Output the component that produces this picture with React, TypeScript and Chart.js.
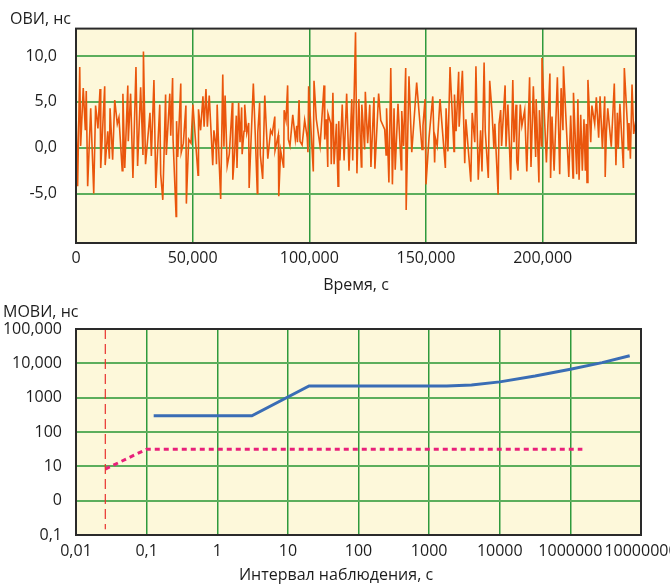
import React, { useEffect, useRef } from "react";
import { Chart, registerables } from "chart.js";

Chart.register(...registerables);

// ---------- Top chart: ОВИ (time interval error), ns vs time, s ----------
const oviTimes = [
  0, 700, 1600, 2000, 3100, 4000, 4400, 5000, 6300, 7600, 8400, 9400, 10300, 10600, 12300, 12500,
  13600, 14300, 14600, 15700, 16600, 17700, 18400, 19800, 20100, 20900, 22200, 22400, 23400, 24400,
  25700, 26400, 27700, 28700, 28900, 29800, 31700, 32300, 33400, 34200, 35900, 36300, 37200, 38400,
  38700, 40200, 40600, 41400, 41600, 42900, 43100, 43600, 44900, 45100, 46000, 47100, 47300, 48300,
  49300, 50100, 52300, 52500, 53400, 54400, 54900, 55700, 56300, 57100, 58600, 59100, 60000, 60200,
  60500, 61300, 62000, 62900, 63400, 63900, 64800, 65700, 67000, 67200, 68000, 68700, 69000, 69700,
  70300, 71000, 71200, 72000, 72300, 73200, 74000, 74200, 76000, 76800, 77700, 77900, 78700, 79000,
  80000, 80900, 82200, 83400, 84100, 85200, 85300, 86700, 86900, 87700, 89000, 89200, 90000, 90700,
  91000, 91700, 92900, 94000, 94600, 94900, 95600, 96000, 96900, 98000, 99100, 99400, 99700, 101700,
  102000, 103000, 104600, 106300, 106600, 107300, 107900, 108000, 109200, 109400, 110100, 110600,
  111600, 112300, 112600, 113100, 114100, 114900, 116000, 117000, 118200, 118600, 119800, 120400,
  121200, 122300, 122500, 123700, 124000, 125000, 125900, 126400, 127700, 128100, 129700, 130600,
  132300, 132900, 133100, 134100, 134900, 135600, 136300, 136800, 138000, 139400, 139600, 140400,
  141300, 141500, 142700, 143900, 146000, 148300, 148700, 149600, 150000, 151300, 152900, 153700,
  154000, 154800, 156000, 158300, 158600, 159400, 160300, 162000, 162200, 162900, 164000, 164200,
  165600, 166600, 167100, 169200, 169800, 170900, 171400, 172400, 173400, 174000, 174900, 175400,
  176700, 177300, 178300, 179100, 179500, 180900, 181300, 182000, 182400, 183900, 184300, 185100,
  186300, 187200, 187700, 188600, 188900, 189400, 190400, 191100, 192300, 193200, 194400, 195000,
  196000, 197000, 197200, 198400, 198600, 199400, 199700, 201600, 203100, 203400, 204000, 204900,
  206300, 207300, 207900, 208700, 208900, 211200, 212000, 213000, 213200, 214600, 215100, 215600,
  216300, 217000, 217700, 218300, 218700, 219000, 219400, 220600, 221100, 222300, 223000, 224000,
  224600, 225600, 226600, 226800, 227300, 227900, 229400, 230700, 231400, 232000, 232400, 233100,
  234600, 235000, 236300, 236700, 237000, 237600, 238300, 239000, 240000,
];
const oviValues = [
  4.0, -4.2, 8.8, 0.2, 6.5, 1.9, 6.2, -4.2, 4.3, -5.0, 4.6, 2.1, 6.4, -2.2, 6.7, -1.9,
  1.8, -1.2, 4.3, -1.3, 5.2, 2.6, 3.3, -2.5, 5.9, -2.2, 6.8, 0.7, 5.9, -3.3,
  8.8, -2.0, 6.6, -0.8, 10.5, -1.8, 3.8, -0.9, 7.4, -4.4, 4.7, -2.9, -5.7, 5.8,
  -0.8, 5.9, 1.3, 7.6, 0.9, -7.5, 2.9, -1.0, 7.0, -0.5, 0.5, 4.6, -6.1, 0.9,
  0.5, 4.7, -3.0, 4.2, 1.9, 5.6, 2.3, 6.4, 2.3, 5.7, -1.9, 1.9, 0.2, -1.8,
  4.7, -1.2, -5.6, 8.0, 0.1, 5.7, -2.0, -0.7, 4.9, -3.5, -0.5, 3.5, -2.2, 4.9,
  0.6, 4.4, -0.7, 1.8, 4.7, 1.6, 2.7, -4.4, 7.0, 1.6, -5.0, 1.6, 4.9, -0.8,
  -3.4, 5.7, -1.2, 1.9, 1.5, 3.4, -0.3, 1.4, -5.3, -0.3, -2.2, 4.1, 3.0, 6.8,
  0.9, 0.2, 3.6, 0.9, 2.4, 0.6, 5.2, 0.7, 0.3, 3.0, 1.1, -0.5, 6.7, -2.6,
  7.3, 3.1, 0.2, 6.8, 0.9, 3.1, -2.1, 3.7, 2.6, -1.8, 6.0, -1.8,
  2.6, -4.2, 2.9, -1.4, 4.7, -1.4, 5.9, -2.5, 5.3, -1.4, 12.6, -2.8,
  5.3, -2.1, 4.7, -0.2, 6.1, 0.5, 4.7, -2.1, 5.5, -2.3, 5.9, 3.0,
  2.0, -0.8, 4.3, -3.8, 8.7, -4.0, 4.3, -2.4, 4.8, -2.4, 4.0, 0.2,
  8.7, -6.8, 7.8, -0.5, 7.1, -0.2, 2.4, 5.3, -4.0, 1.1, 5.6, -1.6,
  1.1, 0.2, 5.3, -2.2, 4.3, -0.4, 8.8, -0.4, 5.8, 1.8, 8.3, 2.3,
  8.4, -1.7, 3.1, -3.7, 3.8, 0.6, 8.9, -3.5, 1.9, -2.6, 9.3, 1.8,
  -3.3, 7.3, 3.9, -0.1, 2.6, -5.1, 2.6, 4.1, 0.2, 6.8, 0.1, 4.7,
  -3.5, 7.4, 0.6, 4.7, -1.5, -2.5, 4.7, 2.4, 4.1, -2.6, 7.7, -2.1,
  6.7, -1.0, 5.3, -3.8, 4.1, 0.2, 9.8, -1.6, 8.1, -3.3, 3.4, -2.5,
  7.7, -2.9, 6.5, 1.9, 8.9, -3.2, 3.5, -3.3, 6.0, -2.9, 5.3, -3.5,
  3.6, -2.5, 3.1, -2.5, 2.6, -3.8, 7.4, 0.6, 4.6, 2.6, 5.5, 1.1,
  5.6, -0.1, 5.6, -3.2, 1.6, 4.3, 0.1, 7.0, -1.9, 3.8, -0.1, 4.8,
  -2.2, 8.7, 2.6, -0.3, 2.7, -1.2, 6.9, 1.5, 3.1,
];
const oviXTicks = [0, 50000, 100000, 150000, 200000];
const oviYTicks = [-5, 0, 5, 10];

// ---------- Bottom chart: МОВИ (MTIE), ns vs observation interval, s ----------
const moviXLabels = ["0,01", "0,1", "1", "10", "100", "1000", "10000", "1000000", "10000000"];
const moviYLabels = ["0,1", "0", "10", "100", "1000", "10,000", "100,000"];
// values given in grid-step units of the labelled axes
const measuredX = [1.1, 2.49, 3.3, 5.25, 5.6, 6.0, 6.5, 7.0, 7.45, 7.84];
const measuredY = [3.47, 3.47, 4.34, 4.34, 4.37, 4.46, 4.63, 4.83, 5.02, 5.22];
const maskX = [0.415, 1.0, 7.17];
const maskY = [1.92, 2.5, 2.5];
const markerX = [0.415, 0.415];
const markerY = [6, 0.17];

const FONT = "'Open Sans', 'Noto Sans', sans-serif";
const FS = 16;
const TEXT = "#1d1d1d";
const CREAM = "#fdf8da";
const GRID_H = "#5cae5c";
const GRID_V = "#2f9a3c";

const W = 720;
const TOP_H = 298;
const BOT_H = 584 - TOP_H;

function framePlugin(titles: { text: string; x: number; y: number; align: CanvasTextAlign }[]) {
  return {
    id: "frame",
    beforeDraw(chart: any) {
      const { ctx, chartArea: a } = chart;
      ctx.save();
      ctx.fillStyle = "#ffffff";
      ctx.fillRect(0, 0, chart.width, chart.height);
      ctx.fillStyle = CREAM;
      ctx.fillRect(a.left, a.top, a.right - a.left, a.bottom - a.top);
      ctx.restore();
    },
    afterDraw(chart: any) {
      const { ctx, chartArea: a } = chart;
      ctx.save();
      ctx.strokeStyle = "#2a2a2a";
      ctx.lineWidth = 2;
      ctx.strokeRect(a.left, a.top, a.right - a.left, a.bottom - a.top);
      ctx.fillStyle = TEXT;
      ctx.font = `${FS}px ${FONT}`;
      ctx.textBaseline = "middle";
      for (const t of titles) {
        ctx.textAlign = t.align;
        ctx.fillText(t.text, t.x, t.y);
      }
      ctx.restore();
    },
  };
}

function TopChart() {
  const ref = useRef<HTMLCanvasElement | null>(null);
  useEffect(() => {
    const chart = new Chart(ref.current!, {
      type: "line",
      data: {
        datasets: [
          {
            data: oviTimes.map((t, i) => ({ x: t, y: oviValues[i] })),
            borderColor: "#ea560c",
            borderWidth: 1.6,
            pointRadius: 0,
            tension: 0,
          },
        ],
      },
      options: {
        animation: false,
        responsive: false,
        devicePixelRatio: 1,
        layout: { padding: { left: 0, top: 20, right: W - 636, bottom: 0 } },
        plugins: { legend: { display: false }, tooltip: { enabled: false } },
        scales: {
          x: {
            type: "linear",
            min: 0,
            max: 240000,
            afterBuildTicks: (s: any) => {
              s.ticks = oviXTicks.map((v) => ({ value: v }));
            },
            afterFit: (s: any) => {
              s.height = TOP_H - 243;
            },
            grid: { color: GRID_V, lineWidth: 1.5, drawTicks: false },
            border: { display: false },
            ticks: {
              padding: 6,
              maxRotation: 0,
              color: TEXT,
              font: { family: FONT, size: FS },
              callback: (v: any) => Number(v).toLocaleString("en-US"),
            },
          },
          y: {
            type: "linear",
            min: -10.4,
            max: 13.0,
            afterBuildTicks: (s: any) => {
              s.ticks = oviYTicks.map((v) => ({ value: v }));
            },
            afterFit: (s: any) => {
              s.width = 76;
            },
            grid: { color: GRID_H, lineWidth: 2, drawTicks: false },
            border: { display: false },
            ticks: {
              padding: 19,
              color: TEXT,
              font: { family: FONT, size: FS },
              callback: (v: any) => Number(v).toFixed(1).replace(".", ","),
            },
          },
        },
      },
      plugins: [
        framePlugin([
          { text: "ОВИ, нс", x: 10, y: 19, align: "left" },
          { text: "Время, с", x: 356, y: 285, align: "center" },
        ]),
      ],
    } as any);
    return () => chart.destroy();
  }, []);
  return (
    <canvas
      ref={ref}
      width={W}
      height={TOP_H}
      style={{ position: "absolute", left: 0, top: 0, width: W, height: TOP_H, display: "block" }}
    />
  );
}

function BottomChart() {
  const ref = useRef<HTMLCanvasElement | null>(null);
  useEffect(() => {
    const chart = new Chart(ref.current!, {
      type: "line",
      data: {
        datasets: [
          {
            data: markerX.map((x, i) => ({ x, y: markerY[i] })),
            borderColor: "#e8322e",
            borderWidth: 1.2,
            borderDash: [10, 5],
            pointRadius: 0,
          },
          {
            data: maskX.map((x, i) => ({ x, y: maskY[i] })),
            borderColor: "#e8207a",
            borderWidth: 3,
            borderDash: [5, 4],
            pointRadius: 0,
          },
          {
            data: measuredX.map((x, i) => ({ x, y: measuredY[i] })),
            borderColor: "#3a6db5",
            borderWidth: 3,
            pointRadius: 0,
            tension: 0,
          },
        ],
      },
      options: {
        animation: false,
        responsive: false,
        devicePixelRatio: 1,
        layout: { padding: { left: 0, top: 329 - TOP_H, right: W - 641, bottom: 0 } },
        plugins: { legend: { display: false }, tooltip: { enabled: false } },
        scales: {
          x: {
            type: "linear",
            min: 0,
            max: moviXLabels.length - 1,
            afterBuildTicks: (s: any) => {
              s.ticks = moviXLabels.map((_, i) => ({ value: i }));
            },
            afterFit: (s: any) => {
              s.height = 584 - 535;
            },
            grid: { color: GRID_V, lineWidth: 1.5, drawTicks: false },
            border: { display: false },
            ticks: {
              padding: 7,
              maxRotation: 0,
              autoSkip: false,
              color: TEXT,
              font: { family: FONT, size: FS },
              callback: (v: any) => moviXLabels[Math.round(Number(v))],
            },
          },
          y: {
            type: "linear",
            min: 0,
            max: moviYLabels.length - 1,
            afterBuildTicks: (s: any) => {
              s.ticks = moviYLabels.map((_, i) => ({ value: i }));
            },
            afterFit: (s: any) => {
              s.width = 76;
            },
            grid: { color: GRID_H, lineWidth: 2, drawTicks: false },
            border: { display: false },
            ticks: {
              padding: 14,
              color: TEXT,
              font: { family: FONT, size: FS },
              callback: (v: any) => moviYLabels[Math.round(Number(v))],
            },
          },
        },
      },
      plugins: [
        framePlugin([
          { text: "МОВИ, нс", x: 3, y: 312 - TOP_H, align: "left" },
          { text: "Интервал наблюдения, с", x: 336, y: 575 - TOP_H, align: "center" },
        ]),
      ],
    } as any);
    return () => chart.destroy();
  }, []);
  return (
    <canvas
      ref={ref}
      width={W}
      height={BOT_H}
      style={{ position: "absolute", left: 0, top: TOP_H, width: W, height: BOT_H, display: "block" }}
    />
  );
}

export default function App() {
  return (
    <div
      style={{
        position: "absolute",
        left: 0,
        top: 0,
        width: 670,
        height: 584,
        overflow: "hidden",
        background: "#ffffff",
      }}
    >
      <TopChart />
      <BottomChart />
    </div>
  );
}
